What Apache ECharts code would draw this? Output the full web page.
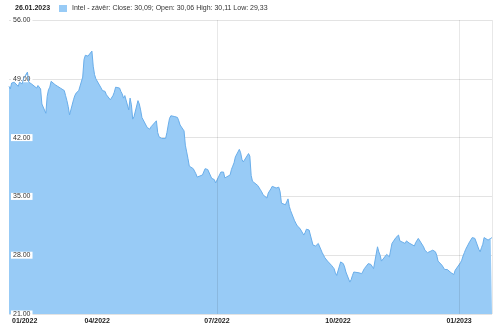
<!DOCTYPE html>
<html><head><meta charset="utf-8">
<script src="https://cdn.jsdelivr.net/npm/echarts@6/dist/echarts.min.js"></script>
<style>html,body{margin:0;padding:0;background:#fff}#c{width:500px;height:327px}</style>
</head><body><div id="c"></div>
<script>
// ---- data ----
const startDate = '2022-01-24';
const endDate = '2023-01-26';
// daily closes (weekdays), one row per week
const closes = [
48.1,47.8,48.5,48.5,48.6,
48.1,48.6,48.5,48.4,49.0,
49.8,48.6,48.5,48.4,48.5,
47.9,48.2,48.2,47.8,46.0,
44.9,46.9,47.7,48.0,48.7,
48.3,48.2,48.1,48.0,47.9,
47.6,47.0,46.4,45.7,44.7,
46.5,47.0,47.3,47.4,47.6,
49.2,51.3,51.8,51.8,51.7,
52.3,50.5,49.5,49.0,48.9,
47.9,47.6,47.6,47.5,47.1,
46.5,46.7,47.0,47.4,48.0,
47.9,47.5,47.2,46.7,47.0,
45.3,46.7,45.9,44.2,44.5,
46.4,46.0,45.3,44.4,44.1,
43.2,43.3,43.0,43.3,43.4,
44.0,42.6,42.1,41.9,41.9,
41.9,42.6,43.5,44.3,44.6,
44.5,44.7,44.4,44.0,43.5,
42.8,41.1,40.3,39.5,38.6,
38.3,38.1,37.7,37.3,37.15,
37.55,37.7,38.3,38.5,38.2,
37.15,37.3,37.0,36.6,36.4,
37.9,38.1,37.9,37.2,37.15,
37.55,38.2,38.6,39.0,39.7,
40.6,40.2,39.4,39.1,39.3,
40.1,39.8,37.5,36.8,36.6,
36.3,36.1,35.8,35.55,35.2,
34.8,35.4,35.6,35.9,36.2,
36.0,36.0,36.1,35.55,34.2,
34.0,34.35,34.7,33.8,33.3,
32.1,31.8,31.5,31.4,31.2,
30.4,30.7,31.1,31.3,31.0,
29.2,29.1,29.1,29.2,29.4,
28.3,28.0,27.7,27.5,27.3,
26.8,26.7,26.4,25.9,25.6,
27.2,27.4,27.0,26.6,26.0,
24.8,25.1,25.6,26.0,25.8,
25.9,26.0,25.8,26.1,26.4,
27.0,27.0,26.9,26.7,26.4,
29.0,28.4,28.0,27.3,27.5,
28.1,28.1,27.8,27.7,29.4,
30.1,30.2,30.4,29.7,29.6,
29.4,29.7,29.6,29.45,29.3,
29.1,29.5,29.6,30.0,29.85,
29.0,28.6,28.5,28.3,28.25,
28.6,28.5,28.4,28.0,27.3,
26.8,26.6,26.3,26.3,26.3,
25.9,25.8,25.7,26.2,26.4,
27.1,27.4,27.9,28.3,28.7,
29.6,29.8,30.1,30.2,30.0,
28.7,28.4,28.9,29.3,30.1,
29.8,29.9,30.0,30.09
];
const yMin = 21, yMax = 56, yStep = 7;
const verticalGridDates = ['2022-07-01', '2023-01-01', '2023-01-26'];
const quoteDate = '26.01.2023';
const seriesName = 'Intel - závěr: Close: 30,09; Open: 30,06 High: 30,11 Low: 29,33';

// ---- weekday categories ----
function pad(n){return (n<10?'0':'')+n;}
function fmt(d){return d.getFullYear()+'-'+pad(d.getMonth()+1)+'-'+pad(d.getDate());}
function parseLocal(s){ const p = s.split('-').map(Number); return new Date(p[0], p[1]-1, p[2]).getTime(); }
function monthLabel(v){ const d = new Date(v); return pad(d.getMonth()+1) + '/' + d.getFullYear(); }
const dates = [];
(function(){
  let d = new Date(parseLocal(startDate));
  const e = new Date(parseLocal(endDate));
  while (d <= e) { const w = d.getDay(); if (w !== 0 && w !== 6) dates.push(fmt(d)); d.setDate(d.getDate()+1); }
})();
const seriesData = dates.map((d, i) => [d, closes[i]]);
const tMin = parseLocal(startDate), tMax = parseLocal(endDate);

const FONT = 'Liberation Sans, Arial, sans-serif';
const labelBase = {fontSize: 7, fontWeight: 'bold', color: '#222', fontFamily: FONT, margin: 4};
const chart = echarts.init(document.getElementById('c'), null, {renderer: 'canvas'});
chart.setOption({
  animation: false,
  backgroundColor: '#fff',
  title: {
    text: quoteDate, left: 15, top: 5, padding: 0,
    textStyle: {fontSize: 7, fontWeight: 'bold', color: '#222', fontFamily: FONT}
  },
  legend: {
    left: 59, top: 5, padding: 0, itemWidth: 8, itemHeight: 7, icon: 'rect',
    textStyle: {fontSize: 7, color: '#333', fontFamily: FONT},
    data: [seriesName]
  },
  grid: {left: 9, right: 8, top: 20, bottom: 13, containLabel: false},
  xAxis: [{
    type: 'time', min: startDate, max: endDate, splitNumber: 4, z: 4,
    minInterval: 80 * 864e5,
    axisLine: {show: false}, axisTick: {show: false}, splitLine: {show: false},
    axisLabel: Object.assign({}, labelBase, {
      showMinLabel: false, showMaxLabel: false, hideOverlap: false,
      formatter: function (v) { return (v <= tMin || v >= tMax) ? '' : monthLabel(v); }
    })
  }, {
    // carries only the label of the first data month at the left edge
    type: 'value', min: tMin, max: tMax, position: 'bottom', z: 4,
    axisLine: {show: false}, axisTick: {show: false}, splitLine: {show: false},
    axisLabel: Object.assign({}, labelBase, {
      showMinLabel: true, showMaxLabel: false, hideOverlap: false,
      alignMinLabel: 'left', padding: [0, 0, 0, 3],
      formatter: function (v) { return v === tMin ? monthLabel(v) : ''; }
    })
  }],
  yAxis: {
    type: 'value', min: yMin, max: yMax, interval: yStep, z: 3,
    axisLine: {show: false}, axisTick: {show: false},
    splitLine: {lineStyle: {color: 'rgba(0,0,0,0.11)', width: 1}},
    axisLabel: {
      inside: true, margin: 2, fontSize: 7, color: '#333', fontFamily: FONT,
      backgroundColor: '#fff', padding: [0, 2, 0, 2],
      formatter: v => v.toFixed(2)
    }
  },
  series: [{
    name: seriesName, type: 'line', data: seriesData, xAxisIndex: 0,
    showSymbol: false, symbol: 'none',
    lineStyle: {color: '#6aaeea', width: 1},
    itemStyle: {color: '#98cbf6'},
    areaStyle: {color: '#98cbf6', opacity: 1},
    markLine: {
      silent: true, symbol: 'none', label: {show: false},
      lineStyle: {color: 'rgba(0,0,0,0.09)', type: 'solid', width: 1},
      data: verticalGridDates.map(d => ({xAxis: d}))
    }
  }]
});
</script></body></html>
